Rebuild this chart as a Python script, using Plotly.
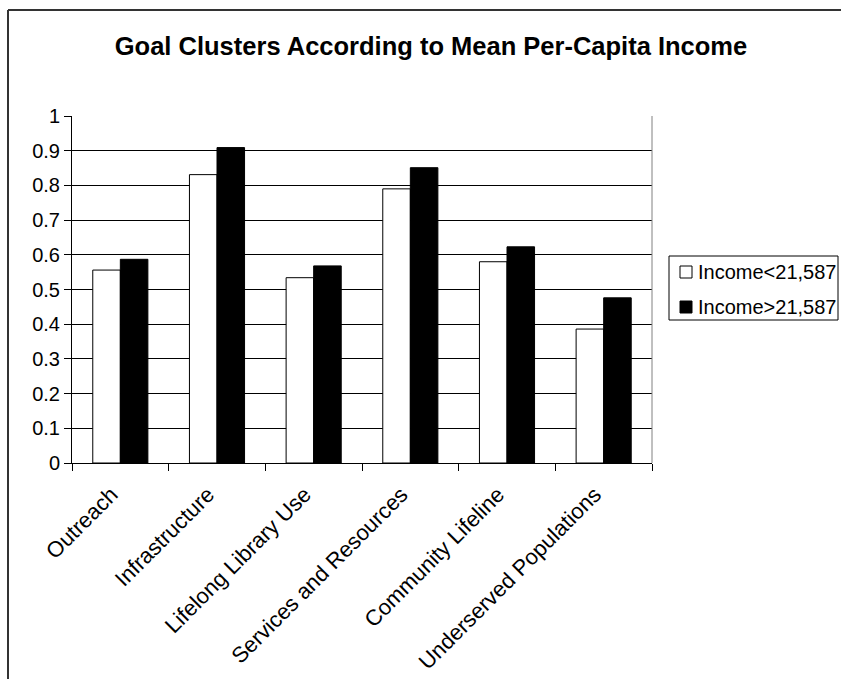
import plotly.graph_objects as go

# Goal cluster categories and mean scores for the two income groups
categories = [
    "Outreach",
    "Infrastructure",
    "Lifelong Library Use",
    "Services and Resources",
    "Community Lifeline",
    "Underserved Populations",
]
income_below = [0.556, 0.831, 0.534, 0.790, 0.580, 0.386]
income_above = [0.587, 0.909, 0.568, 0.851, 0.623, 0.476]
series_names = ["Income<21,587", "Income>21,587"]
series_fill = ["white", "black"]
y_ticks = [0, 0.1, 0.2, 0.3, 0.4, 0.5, 0.6, 0.7, 0.8, 0.9, 1]

W, H = 841, 679
L, R, T, B = 72, 189, 116, 216
FONT = "Liberation Sans, Arial, sans-serif"

fig = go.Figure()
for name, fill, vals in zip(series_names, series_fill, [income_below, income_above]):
    fig.add_trace(go.Bar(
        x=categories, y=vals, name=name, showlegend=False,
        marker=dict(color=fill, line=dict(color="black", width=1)),
    ))

pw, ph = W - L - R, H - T - B


def px_x(px):
    return (px - L) / pw


def px_y(py):
    return (H - B - py) / ph


shapes = [
    # right edge of the plot area
    dict(type="line", xref="paper", yref="paper", x0=1, x1=1, y0=0, y1=1,
         line=dict(color="#808080", width=1)),
    # outer chart frame (left and top edges)
    dict(type="line", xref="paper", yref="paper", x0=px_x(8), x1=px_x(8),
         y0=px_y(10), y1=px_y(H + 5), line=dict(color="#333333", width=2)),
    dict(type="line", xref="paper", yref="paper", x0=px_x(8), x1=px_x(W + 5),
         y0=px_y(10), y1=px_y(10), line=dict(color="#333333", width=2)),
    # legend box
    dict(type="rect", xref="paper", yref="paper",
         x0=px_x(669), x1=px_x(838), y0=px_y(320), y1=px_y(256),
         line=dict(color="black", width=1), fillcolor="white"),
]

annotations = []
row_y = [272, 307]
for name, fill, ry in zip(series_names, series_fill, row_y):
    shapes.append(dict(
        type="rect", xref="paper", yref="paper",
        x0=px_x(680), x1=px_x(692), y0=px_y(ry + 6), y1=px_y(ry - 6),
        line=dict(color="black", width=1), fillcolor=fill,
    ))
    annotations.append(dict(
        text=name, xref="paper", yref="paper", x=px_x(696), y=px_y(ry),
        xanchor="left", yanchor="middle", showarrow=False,
        font=dict(family=FONT, size=20, color="black"),
    ))

fig.update_layout(
    width=W, height=H,
    margin=dict(l=L, r=R, t=T, b=B, autoexpand=False),
    paper_bgcolor="white", plot_bgcolor="white",
    font=dict(family=FONT, size=20, color="black"),
    title=dict(
        text="<b>Goal Clusters According to Mean Per-Capita Income</b>",
        x=431 / W, xanchor="center", xref="container",
        y=1 - 46 / H, yanchor="middle", yref="container",
        font=dict(family=FONT, size=25.5, color="black"),
    ),
    barmode="group", bargap=0.43, bargroupgap=0,
    shapes=shapes,
    annotations=annotations,
)

fig.update_xaxes(
    type="category", tickangle=-45, tickson="boundaries",
    ticks="outside", ticklen=7, tickcolor="black", tickwidth=1,
    showline=True, linecolor="black", linewidth=1,
    showgrid=False, ticklabelstandoff=9, ticklabelshift=-9,
    tickfont=dict(family=FONT, size=22, color="black"),
)
fig.update_yaxes(
    range=[0, 1], tickvals=y_ticks, ticktext=[f"{v:g}" for v in y_ticks],
    ticks="outside", ticklen=7, tickcolor="black", tickwidth=1,
    showline=True, linecolor="black", linewidth=1,
    showgrid=True, gridcolor="black", gridwidth=1, zeroline=False,
    tickfont=dict(family=FONT, size=20, color="black"),
)

fig.write_html("out.html")
